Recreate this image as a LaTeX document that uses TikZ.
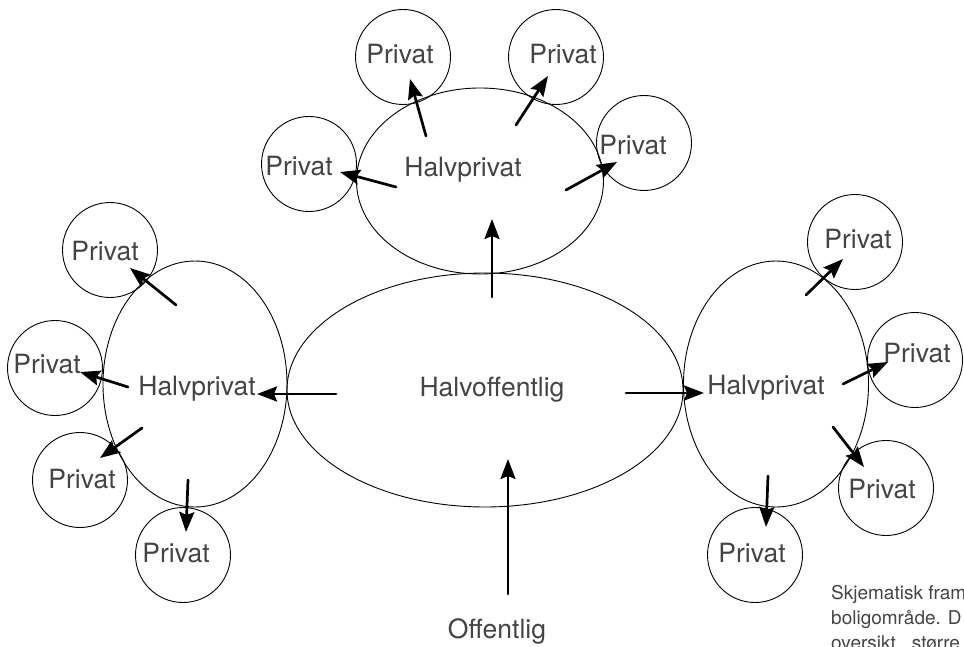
\documentclass[tikz,border=0pt]{standalone}
\usepackage{fontspec}
\setmainfont{TeX Gyre Heros}
\usetikzlibrary{shapes.geometric,arrows.meta}
\definecolor{skrift}{HTML}{444444}
\tikzset{
  sone/.style={ellipse, draw, line width=0.9pt, inner sep=0pt},
  privat/.style={circle, draw, line width=0.9pt, minimum size=95pt, inner sep=0pt},
  merke/.style={text=skrift, inner sep=0pt, anchor=base, font=\fontsize{26.5}{30}\selectfont},
  liten/.style={text=skrift, inner sep=0pt, anchor=base west, font=\fontsize{19}{22}\selectfont},
  pil/.style={line width=2.7pt, -{Stealth[length=20pt,width=15pt,inset=3pt]}}
}
\begin{document}
\begin{tikzpicture}[x=1pt, y=-1pt, line join=round, line cap=round]
	\useasboundingbox (0,0) rectangle (964,647);
	\clip (0,0) rectangle (964,647);
	% soner
	\node[sone, minimum width=396pt, minimum height=234pt] (halvoff) at (485,390) {};
	\node[sone, minimum width=247pt, minimum height=186pt] (hp-topp) at (480,181) {};
	\node[sone, minimum width=184pt, minimum height=246pt] (hp-venstre) at (195,384) {};
	\node[sone, minimum width=185pt, minimum height=246pt] (hp-hoyre) at (776,384) {};
	\node[merke] (t-halvoff) at (492,396) {Halvoffentlig};
	\node[merke] (t-topp) at (463,177) {Halvprivat};
	\node[merke] (t-venstre) at (197,395) {Halvprivat};
	\node[merke] (t-hoyre) at (766,394) {Halvprivat};
	\node[merke] (offentlig) at (497,638) {Offentlig};
	% private
	\foreach \navn/\cx/\cy/\tx/\ty in {
		p-t1/403/57/400/64, p-t2/556/57/563/64, p-t3/644/143/633/155, p-t4/309/164/299/176,
		p-v1/110/250/105/261, p-v2/55/368/47/373, p-v3/80/480/82/488, p-v4/183/555/176/562,
		p-h1/855/242/858/249, p-h2/915/360/917/362, p-h3/886/488/882/498, p-h4/755/555/752/562}{
		\node[privat] (\navn) at (\cx,\cy) {};
		\node[merke] (\navn-tekst) at (\tx,\ty) {Privat};
	}
	% piler
	\foreach \navn/\ax/\ay/\bx/\by in {
		a1/492/297/492/219, a2/336/394/257/394, a3/626/393/704/393, a4/508/594/508/459,
		b1/426/136/410/79, b2/516/125/548/76, b3/566/190/617/162, b4/396/187/340/172,
		c1/176/305/130/268, c2/128/387/80/372, c3/142/428/100/458, c4/188/480/186/532,
		d1/806/295/843/259, d2/843/384/888/362, d3/833/427/864/467, d4/768/476/766/527}{
		\coordinate (\navn-fra) at (\ax,\ay);
		\coordinate (\navn-til) at (\bx,\by);
		\draw[pil] (\navn-fra) -- (\navn-til);
	}
	% bildetekst
	\node[liten] (bt1) at (831,599) {Skjematisk fram};
	\node[liten] (bt2) at (831,624) {boligområde. D};
	\node[liten] (bt3) at (831,649) {oversikt,\ \ større};
\end{tikzpicture}
\end{document}
